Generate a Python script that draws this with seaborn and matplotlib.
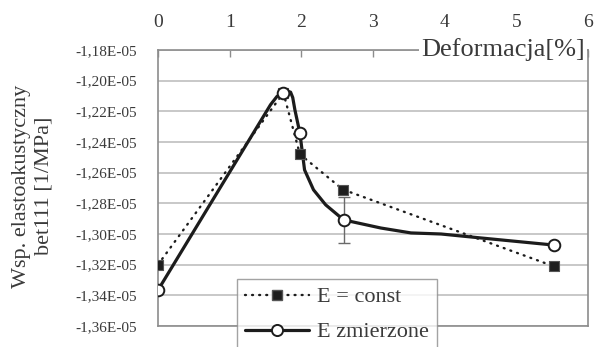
import matplotlib
matplotlib.use("Agg")
import matplotlib.pyplot as plt
from matplotlib.lines import Line2D
from matplotlib.ticker import FuncFormatter, MultipleLocator
import pandas as pd
import seaborn as sns

# Deformation [%] vs. elastoacoustic coefficient bet111 [1/MPa]
const_x = [0.0, 1.75, 1.98, 2.58, 5.52]
const_y = [-1.320e-5, -1.208e-5, -1.248e-5, -1.271e-5, -1.321e-5]

meas_x = [0.0, 1.75, 1.98, 2.59, 5.52]
meas_y = [-1.3366e-5, -1.2078e-5, -1.2342e-5, -1.2908e-5, -1.3072e-5]

# scatter of the measured value at 2.59 %
err_x = [2.59]
err_y = [-1.2908e-5]
err_half = [0.0150e-5]

# smoothed trace of the measured series
curve_x = [0.0, 1.57, 1.66, 1.75, 1.80, 1.85, 1.88, 1.91, 1.98, 2.045,
           2.17, 2.34, 2.59, 3.11, 3.53, 3.95, 4.51, 5.52]
curve_y = [-1.3366e-5, -1.2157e-5, -1.2103e-5, -1.2078e-5, -1.2068e-5,
           -1.2075e-5, -1.2110e-5, -1.2190e-5, -1.2342e-5, -1.2582e-5,
           -1.2712e-5, -1.2810e-5, -1.2908e-5, -1.2961e-5, -1.2993e-5,
           -1.3000e-5, -1.3026e-5, -1.3072e-5]

x_ticks = [0, 1, 2, 3, 4, 5, 6]
labels = ["E = const", "E zmierzone"]

sns.set_theme(style="white")
plt.rcParams["font.family"] = ["Liberation Serif", "DejaVu Serif"]

text_col = "#3a3a3a"
line_col = "#1c1c1c"
grid_col = "#c4c4c4"
spine_col = "#8c8c8c"

fig = plt.figure(figsize=(5.94, 3.47), dpi=100)
fig.patch.set_facecolor("white")
ax = fig.add_axes([158 / 594, 1 - 326 / 347, (588 - 158) / 594, (326 - 50) / 347])

const_df = pd.DataFrame({"x": const_x, "y": const_y})
curve_df = pd.DataFrame({"x": curve_x, "y": curve_y})
meas_df = pd.DataFrame({"x": meas_x, "y": meas_y})

dot_style = (0, (0.4, 2.6))
sns.lineplot(data=const_df, x="x", y="y", ax=ax, color=line_col, lw=1.7,
             linestyle=dot_style, dash_capstyle="round", sort=False, zorder=3)
sns.lineplot(data=curve_df, x="x", y="y", ax=ax, color=line_col, lw=2.3,
             sort=False, zorder=4)
ax.errorbar(err_x, err_y, yerr=err_half, fmt="none", ecolor="#6a6a6a",
            elinewidth=1.0, capsize=4, capthick=1.0, zorder=3.5)
sns.scatterplot(data=const_df, x="x", y="y", ax=ax, marker="s", s=50,
                color="#1e1e1e", edgecolor="#555555", linewidth=0.8, zorder=5)
sns.scatterplot(data=meas_df, x="x", y="y", ax=ax, marker="o", s=70,
                color="white", edgecolor=line_col, linewidth=1.4, zorder=6)

ax.set_xlim(0, 6)
ax.set_ylim(-1.36e-5, -1.18e-5)
ax.set_xticks(x_ticks)
ax.yaxis.set_major_locator(MultipleLocator(0.02e-5))
ax.yaxis.set_major_formatter(
    FuncFormatter(lambda v, p: f"{v:.2E}".replace(".", ",")))
ax.xaxis.tick_top()
ax.tick_params(axis="x", direction="in", length=5, width=1, color=spine_col,
               pad=14, labelsize=14, labelcolor=text_col)
ax.tick_params(axis="y", length=0, pad=15, labelsize=11, labelcolor=text_col)
ax.set_xlabel("")
ax.set_ylabel("")

ax.grid(axis="y", color=grid_col, lw=1.3)
ax.grid(axis="x", visible=False)
ax.set_axisbelow(True)
for s in ax.spines.values():
    s.set_color(spine_col)
    s.set_linewidth(1.2)

ax.text(0.993, 1.0, "Deformacja[%]", transform=ax.transAxes, ha="right",
        va="center", fontsize=19, color=text_col, zorder=10,
        bbox=dict(facecolor="white", edgecolor="none", pad=1.5))

fig.text(33 / 594, 1 - 186 / 347, "Wsp. elastoakustyczny\nbet111 [1/MPa]",
         rotation=90, ha="center", va="center", multialignment="center",
         fontsize=16, color=text_col, linespacing=1.25)

handles = [
    Line2D([], [], color=line_col, lw=1.7, linestyle=dot_style,
           dash_capstyle="round", marker="s", markersize=7,
           markerfacecolor="#1e1e1e", markeredgecolor="#555555"),
    Line2D([], [], color=line_col, lw=2.3, marker="o", markersize=8,
           markerfacecolor="white", markeredgecolor=line_col,
           markeredgewidth=1.4),
]
leg = fig.legend(handles, labels, loc="upper left",
                 bbox_to_anchor=(237 / 594, 1 - 279 / 347),
                 borderaxespad=0, frameon=True, fancybox=False, fontsize=16,
                 handlelength=2.9, handletextpad=0.35, labelspacing=0.65,
                 borderpad=0.35, labelcolor=text_col)
leg.get_frame().set_edgecolor(spine_col)
leg.get_frame().set_linewidth(1.0)
leg.set_zorder(20)

fig.savefig("out.png", dpi=100, facecolor="white")
